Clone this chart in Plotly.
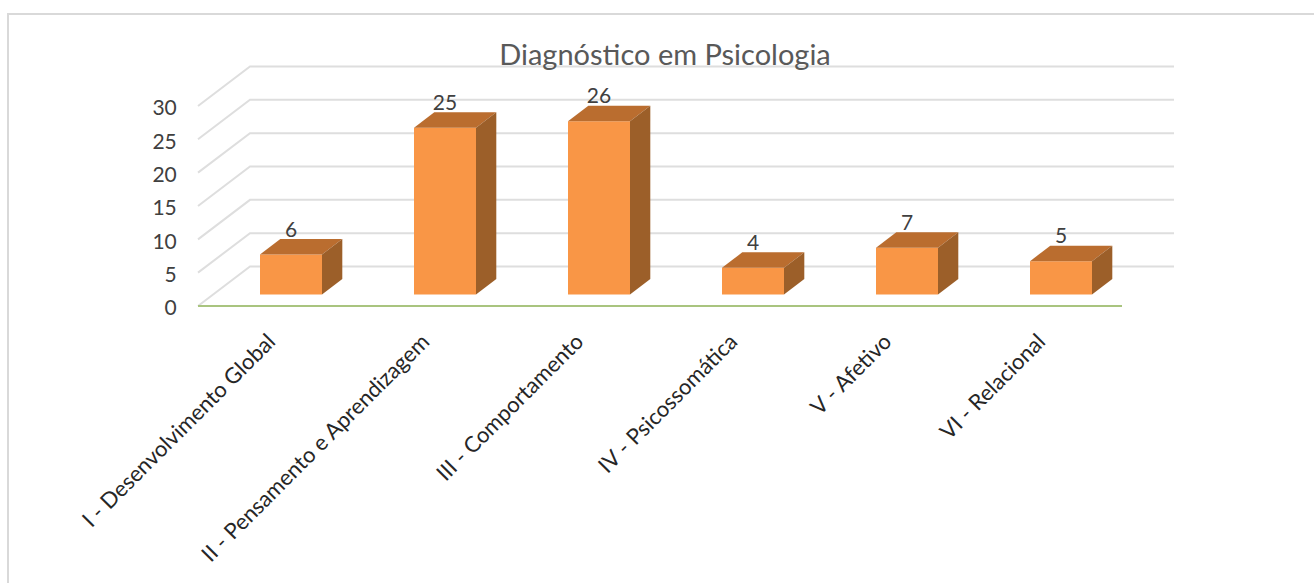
import plotly.graph_objects as go

# Data
categories = ["I - Desenvolvimento Global", "II - Pensamento e Aprendizagem", "III - Comportamento",
              "IV - Psicossomática", "V - Afetivo", "VI - Relacional"]
values = [6, 25, 26, 4, 7, 5]
y_ticks = [0, 5, 10, 15, 20, 25, 30]

# Layout in pixels
W, H = 1314, 583
left, right, top, bottom = 190, 1174, 60, 316
floor_px = 306
x_per_cat = 154
y_per_unit = 6.667
first_bar_px = 291
wall_left_px = 198

x0 = (left - first_bar_px) / x_per_cat
x1 = (right - first_bar_px) / x_per_cat
y0 = (floor_px - bottom) / y_per_unit
y1 = (floor_px - top) / y_per_unit
wall_x = (wall_left_px - first_bar_px) / x_per_cat

# Depth of the floor and of the bars, in axis units
wall_dx = 52 / x_per_cat
wall_dy = 39.5 / y_per_unit
bar_width = 62 / x_per_cat
bar_dx = 20.3 / x_per_cat
bar_dy = 15.5 / y_per_unit
bar_base = 11.5 / y_per_unit

# Small nudges so the text lands where the original has it
label_shift = 22 / x_per_cat
y_label_shift = 2 / y_per_unit
value_gap = 23 / y_per_unit

# Gridlines sit under the bars, so they are shapes on the data axes
shapes = [dict(type="rect", xref="paper", yref="paper",
               x0=(8 - left) / (right - left), x1=(1330 - left) / (right - left),
               y0=(bottom - 600) / (bottom - top), y1=(bottom - 14) / (bottom - top),
               line=dict(color="#D9D9D9", width=2), layer="below")]
for v in y_ticks:
    path = f"M {wall_x} {v} L {wall_x + wall_dx} {v + wall_dy} L {x1} {v + wall_dy}"
    shapes.append(dict(type="path", xref="x", yref="y", path=path, layer="below",
                       line=dict(color="#DEDEDE", width=2)))
shapes.append(dict(type="line", xref="x", yref="y", x0=wall_x, x1=x1 - wall_dx, y0=0, y1=0, layer="below",
                   line=dict(color="#A9C47F", width=2)))

fig = go.Figure()

# Front faces
fig.add_trace(go.Bar(x=list(range(6)), y=values, base=bar_base, width=bar_width,
                     marker=dict(color="#F99646", line=dict(width=0)), showlegend=False))

# Top and side faces
for i, v in enumerate(values):
    xa = i - bar_width / 2
    xb = i + bar_width / 2
    yt = v + bar_base
    fig.add_trace(go.Scatter(x=[xa, xb, xb + bar_dx, xa + bar_dx, xa], y=[yt, yt, yt + bar_dy, yt + bar_dy, yt],
                             mode="lines", fill="toself", fillcolor="#BA6D2F", line=dict(width=0),
                             hoverinfo="skip", showlegend=False))
    fig.add_trace(go.Scatter(x=[xb, xb + bar_dx, xb + bar_dx, xb, xb],
                             y=[bar_base, bar_base + bar_dy, yt + bar_dy, yt, bar_base],
                             mode="lines", fill="toself", fillcolor="#9C5F29", line=dict(width=0),
                             hoverinfo="skip", showlegend=False))

# Data labels
fig.add_trace(go.Scatter(x=list(range(6)), y=[v + bar_base + value_gap for v in values], mode="text",
                         text=[str(v) for v in values], textposition="middle center",
                         textfont=dict(family="Lato", size=21, color="#404040"),
                         hoverinfo="skip", showlegend=False))

fig.update_layout(
    width=W, height=H,
    margin=dict(l=left, r=W - right, t=top, b=H - bottom),
    paper_bgcolor="white", plot_bgcolor="rgba(0,0,0,0)",
    title=dict(text="Diagnóstico em Psicologia", x=665 / W, y=1 - 55 / H, xanchor="center", yanchor="middle",
               font=dict(family="Lato", size=29, color="#595959")),
    xaxis=dict(range=[x0, x1], tickmode="array", tickvals=[i - label_shift for i in range(6)], ticktext=categories,
               tickangle=-45, showgrid=False, zeroline=False, showline=False,
               ticks="outside", ticklen=3, tickcolor="rgba(0,0,0,0)",
               tickfont=dict(family="Lato", size=22, color="#262626")),
    yaxis=dict(range=[y0, y1], tickmode="array", tickvals=[v - y_label_shift for v in y_ticks],
               ticktext=[str(v) for v in y_ticks], showgrid=False, zeroline=False, showline=False,
               ticks="outside", ticklen=8, tickcolor="rgba(0,0,0,0)",
               tickfont=dict(family="Lato", size=21, color="#404040")),
    shapes=shapes,
)

fig.write_html("out.html", config=dict(displayModeBar=False), post_script="document.body.style.margin = '0';")
